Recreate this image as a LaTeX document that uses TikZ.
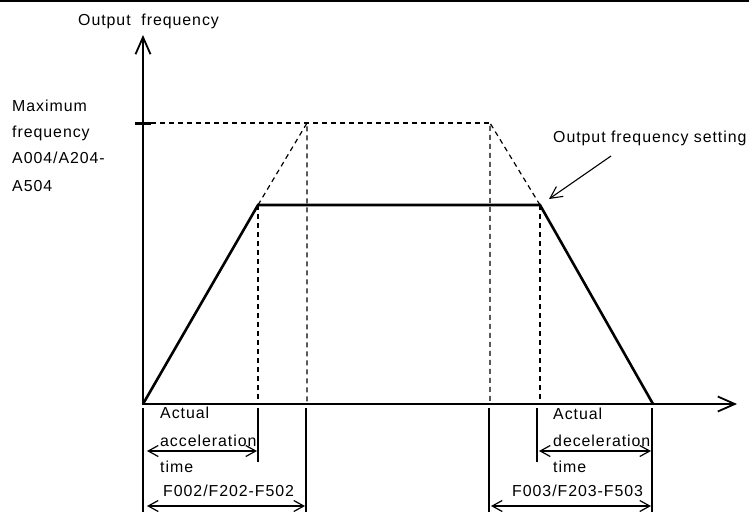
\documentclass[tikz,border=0pt]{standalone}
\usepackage{fontspec}
\setmainfont[LetterSpace=6]{Liberation Sans}
\usetikzlibrary{arrows.meta}
\begin{document}
\begin{tikzpicture}[x=1pt,y=-1pt,
  lbl/.style={anchor=base west,inner sep=0pt,font=\fontsize{15.9}{18}\selectfont},
  axisline/.style={line width=1.8pt},
  curve/.style={line width=2.6pt,line join=miter},
  guide/.style={line width=1.2pt,dash pattern=on 5pt off 4pt},
  tickline/.style={line width=1.2pt},
  bigtip/.style={-{Straight Barb[length=17pt,width=15pt,line width=1.8pt]}},
  dimarrow/.style={line width=1.2pt,{Straight Barb[length=10pt,width=11pt]}-{Straight Barb[length=10pt,width=11pt]}}
]
\useasboundingbox (0,0) rectangle (749,512);
% top rule
\draw[line width=2.4pt] (0,1) -- (749,1);
% key points
\coordinate (O) at (143,404);
\coordinate (A) at (258,205);
\coordinate (B) at (540,205);
\coordinate (C) at (653,404);
\coordinate (P) at (307,123);
\coordinate (Q) at (490,123);
\coordinate (Ytop) at (143,35);
\coordinate (Xend) at (737,404);
% axes
\draw[axisline,bigtip] (143,405) -- (Ytop);
\draw[axisline,bigtip] (O) -- (Xend);
\draw[line width=3pt] (135,123) -- (151,123);
% dashed guides
\draw[guide] (151,123) -- (Q);
\draw[guide] (A) -- (P) -- (307,404);
\draw[guide] (B) -- (Q) -- (490,404);
\draw[guide] (A) -- (258,404);
\draw[guide] (B) -- (540,404);
% trapezoid
\draw[curve] (O) -- (A) -- (B) -- (C);
% marks below axis
\draw[tickline] (143,408) -- (143,512);
\draw[tickline] (258,408) -- (258,462);
\draw[tickline] (306,408) -- (306,512);
\draw[tickline] (489,408) -- (489,512);
\draw[tickline] (537,408) -- (537,462);
\draw[tickline] (652,408) -- (652,512);
% dimension arrows
\coordinate (a1) at (147,451); \coordinate (a2) at (257,451);
\coordinate (b1) at (147,506); \coordinate (b2) at (305,506);
\coordinate (c1) at (539,451); \coordinate (c2) at (651,451);
\coordinate (d1) at (491,506); \coordinate (d2) at (651,506);
\draw[dimarrow] (a1) -- (a2);
\draw[dimarrow] (b1) -- (b2);
\draw[dimarrow] (c1) -- (c2);
\draw[dimarrow] (d1) -- (d2);
% texts
\node[lbl] (yl) at (78,25) {Output\ \ frequency};
\node[lbl] (m1) at (12,111) {Maximum};
\node[lbl] (m2) at (12,137) {frequency};
\node[lbl] (m3) at (12,163) {A004/A204-};
\node[lbl] (m4) at (12,191) {A504};
\node[lbl] (set) at (553,142) {Output frequency setting};
\coordinate (s1) at (611,156);
\coordinate (s2) at (549,199);
\draw[line width=1.1pt,-{Straight Barb[length=12pt,width=12pt]}] (s1) -- (s2);
\node[lbl] (t1) at (160,418) {Actual};
\node[lbl] (t2) at (160,446) {acceleration};
\node[lbl] (t3) at (160,472) {time};
\node[lbl] (t4) at (163,496) {F002/F202-F502};
\node[lbl] (u1) at (553,419) {Actual};
\node[lbl] (u2) at (553,446) {deceleration};
\node[lbl] (u3) at (553,472) {time};
\node[lbl] (u4) at (512,496) {F003/F203-F503};
\end{tikzpicture}
\end{document}
